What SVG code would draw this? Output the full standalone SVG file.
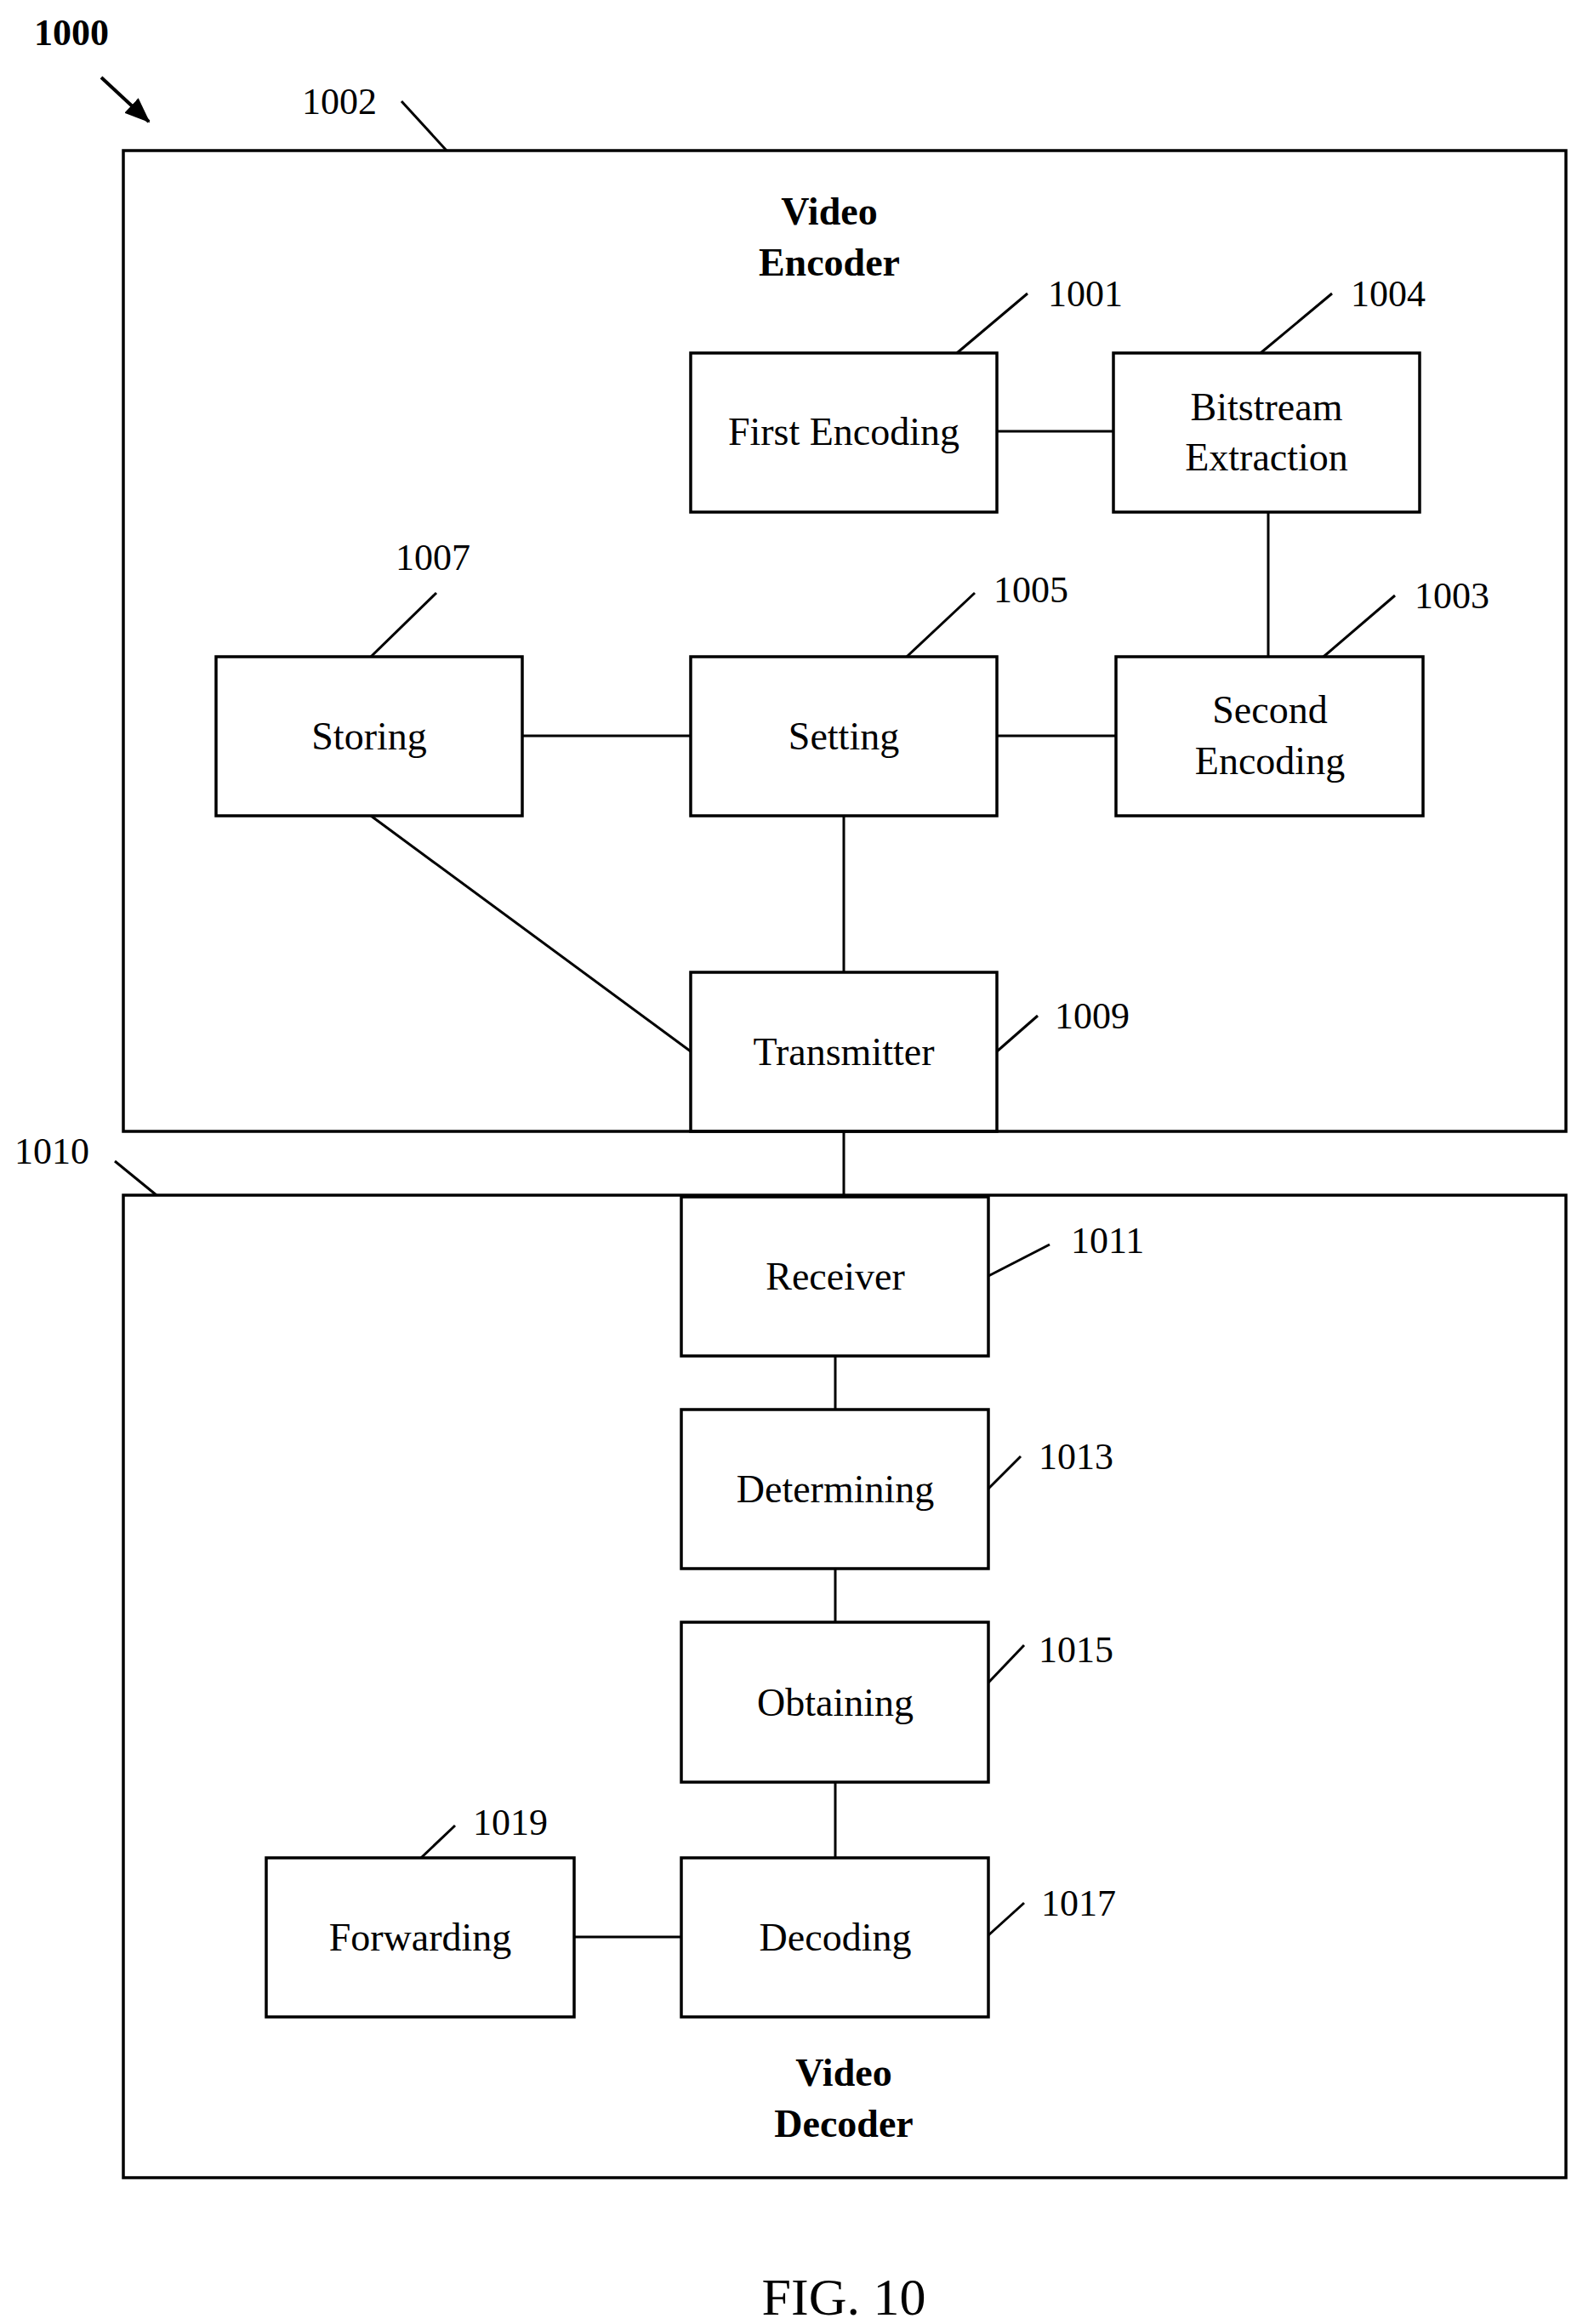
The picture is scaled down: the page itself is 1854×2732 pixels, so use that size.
<svg xmlns="http://www.w3.org/2000/svg" width="1854" height="2732" viewBox="0 0 1854 2732">
<style>
rect{fill:none;stroke:#000;stroke-width:3.5}
line{stroke:#000;stroke-width:3}
text{font-family:"Liberation Serif",serif;font-size:46px;text-anchor:middle;dominant-baseline:central;fill:#000}
.n{font-size:44px;text-anchor:start}
.b{font-weight:bold}
</style>
<defs><marker id="a" markerWidth="30" markerHeight="24" refX="28" refY="12" orient="auto" markerUnits="userSpaceOnUse" viewBox="0 0 30 24"><path d="M0,0L30,12L0,24z"/></marker></defs>
<rect x="0" y="0" width="1854" height="2732" style="fill:#fff;stroke:none"/>
<g id="labels">
<text x="84" y="38" class="b" style="font-size:44px">1000</text>
<line x1="119" y1="91" x2="175" y2="143" style="stroke-width:4" marker-end="url(#a)"/>
<text x="355" y="119" class="n">1002</text><line x1="472" y1="119" x2="525" y2="177"/>
<text x="975" y="248" class="b">Video</text><text x="975" y="308" class="b">Encoder</text>
<text x="1232" y="345" class="n">1001</text><line x1="1125" y1="415" x2="1208" y2="345"/>
<text x="1588" y="345" class="n">1004</text><line x1="1482" y1="415" x2="1566" y2="345"/>
<text x="465" y="655" class="n">1007</text><line x1="436" y1="772" x2="513" y2="697"/>
<text x="1168" y="693" class="n">1005</text><line x1="1066" y1="772" x2="1146" y2="697"/>
<text x="1663" y="700" class="n">1003</text><line x1="1556" y1="772" x2="1640" y2="700"/>
<text x="1240" y="1194" class="n">1009</text><line x1="1172" y1="1236" x2="1220" y2="1194"/>
<text x="17" y="1353" class="n">1010</text><line x1="135" y1="1365" x2="184" y2="1405"/>
<text x="1259" y="1458" class="n">1011</text><line x1="1162" y1="1500" x2="1234" y2="1463"/>
<text x="1221" y="1712" class="n">1013</text><line x1="1162" y1="1750" x2="1200" y2="1712"/>
<text x="1221" y="1939" class="n">1015</text><line x1="1162" y1="1978" x2="1204" y2="1934"/>
<text x="1224" y="2237" class="n">1017</text><line x1="1162" y1="2275" x2="1204" y2="2237"/>
<text x="556" y="2142" class="n">1019</text><line x1="495" y1="2184" x2="535" y2="2146"/>
<text x="992" y="2436" class="b">Video</text><text x="992" y="2496" class="b">Decoder</text>
<text x="992" y="2700" style="font-size:62px">FIG. 10</text>
</g>
<g id="encoder"><rect x="145" y="177" width="1696" height="1153"/></g>
<g id="decoder"><rect x="145" y="1405" width="1696" height="1155"/></g>
<g id="connectors">
<line x1="1172" y1="507" x2="1309" y2="507"/>
<line x1="1491" y1="602" x2="1491" y2="772"/>
<line x1="614" y1="865" x2="812" y2="865"/>
<line x1="1172" y1="865" x2="1312" y2="865"/>
<line x1="992" y1="959" x2="992" y2="1143"/>
<line x1="436" y1="959" x2="812" y2="1236"/>
<line x1="992" y1="1330" x2="992" y2="1407"/>
<line x1="982" y1="1594" x2="982" y2="1657"/>
<line x1="982" y1="1844" x2="982" y2="1907"/>
<line x1="982" y1="2095" x2="982" y2="2184"/>
<line x1="675" y1="2277" x2="801" y2="2277"/>
</g>
<g id="first"><rect x="812" y="415" width="360" height="187"/><text x="992" y="507">First Encoding</text></g>
<g id="bitstream"><rect x="1309" y="415" width="360" height="187"/><text x="1489" y="478">Bitstream</text><text x="1489" y="537">Extraction</text></g>
<g id="storing"><rect x="254" y="772" width="360" height="187"/><text x="434" y="865">Storing</text></g>
<g id="setting"><rect x="812" y="772" width="360" height="187"/><text x="992" y="865">Setting</text></g>
<g id="second"><rect x="1312" y="772" width="361" height="187"/><text x="1493" y="834">Second</text><text x="1493" y="894">Encoding</text></g>
<g id="transmitter"><rect x="812" y="1143" width="360" height="187"/><text x="992" y="1236">Transmitter</text></g>
<g id="receiver"><rect x="801" y="1407" width="361" height="187"/><text x="982" y="1500">Receiver</text></g>
<g id="determining"><rect x="801" y="1657" width="361" height="187"/><text x="982" y="1750">Determining</text></g>
<g id="obtaining"><rect x="801" y="1907" width="361" height="188"/><text x="982" y="2001">Obtaining</text></g>
<g id="decoding"><rect x="801" y="2184" width="361" height="187"/><text x="982" y="2277">Decoding</text></g>
<g id="forwarding"><rect x="313" y="2184" width="362" height="187"/><text x="494" y="2277">Forwarding</text></g>
</svg>
